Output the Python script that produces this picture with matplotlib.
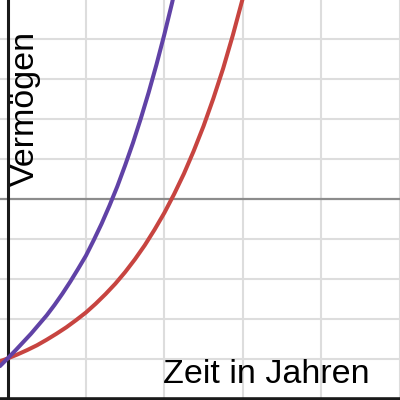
import matplotlib
matplotlib.use('Agg')
import matplotlib.pyplot as plt

plt.rcParams['font.family'] = ['Liberation Sans', 'DejaVu Sans']

# values (x = years, y = wealth)
purple_x = [-0.096, 0.0, 0.1, 0.2, 0.3, 0.4, 0.5, 0.6, 0.7, 0.8, 0.9, 1.0, 1.1,
            1.2, 1.3, 1.4, 1.5, 1.6, 1.7, 1.8, 1.9, 2.0, 2.1, 2.2]
purple_y = [0.81, 1.0, 1.20, 1.41, 1.62, 1.85, 2.08, 2.34, 2.62, 2.92, 3.24, 3.57, 3.96,
            4.37, 4.82, 5.30, 5.83, 6.39, 7.00, 7.65, 8.35, 9.10, 9.90, 10.77]

red_x = [-0.096, 0.0, 0.125, 0.25, 0.375, 0.5, 0.625, 0.75, 0.875, 1.0, 1.125,
         1.25, 1.375, 1.5, 1.625, 1.75, 1.875, 2.0, 2.125, 2.25, 2.375, 2.5,
         2.625, 2.75, 2.875, 3.0, 3.05]
red_y = [0.93, 1.0, 1.10, 1.21, 1.33, 1.47, 1.62, 1.78, 1.96, 2.15, 2.37,
         2.61, 2.87, 3.16, 3.48, 3.83, 4.22, 4.64, 5.11, 5.62, 6.19, 6.81,
         7.50, 8.25, 9.09, 10.0, 10.4]

x_grid = [1, 2, 3, 4, 5]
y_grid = [1, 2, 3, 4, 6, 7, 8, 9]
y_mark = 5

x_label = 'Zeit in Jahren'
y_label = 'Vermögen'

fig = plt.figure(figsize=(4, 4), dpi=100)
ax = fig.add_axes([0, 0, 1, 1])
ax.set_xlim(-0.096, 5.006)
ax.set_ylim(-0.0375, 9.9625)
ax.axis('off')

for gx in x_grid:
    ax.axvline(gx, color='#dddddd', linewidth=1.5, zorder=1)
for gy in y_grid:
    ax.axhline(gy, color='#dddddd', linewidth=1.5, zorder=1)
ax.axhline(y_mark, color='#8c8c8c', linewidth=1.6, zorder=2)

# axes
ax.axvline(0, color='#1a1a1a', linewidth=2.2, zorder=3)
ax.axhline(0, color='#1a1a1a', linewidth=2.6, zorder=3)

ax.plot(red_x, red_y, color='#c74440', linewidth=2.9, solid_capstyle='round',
        solid_joinstyle='round', zorder=4)
ax.plot(purple_x, purple_y, color='#6042a6', linewidth=2.9, solid_capstyle='round',
        solid_joinstyle='round', zorder=5)

fig.text(163 / 400, 1 - 383 / 400, x_label, fontsize=24.5, color='black',
         ha='left', va='baseline')
fig.text(25 / 400, 1 - 108 / 400, y_label, fontsize=24.5, color='black',
         rotation=90, ha='center', va='center')

fig.savefig('out.png', dpi=100)
